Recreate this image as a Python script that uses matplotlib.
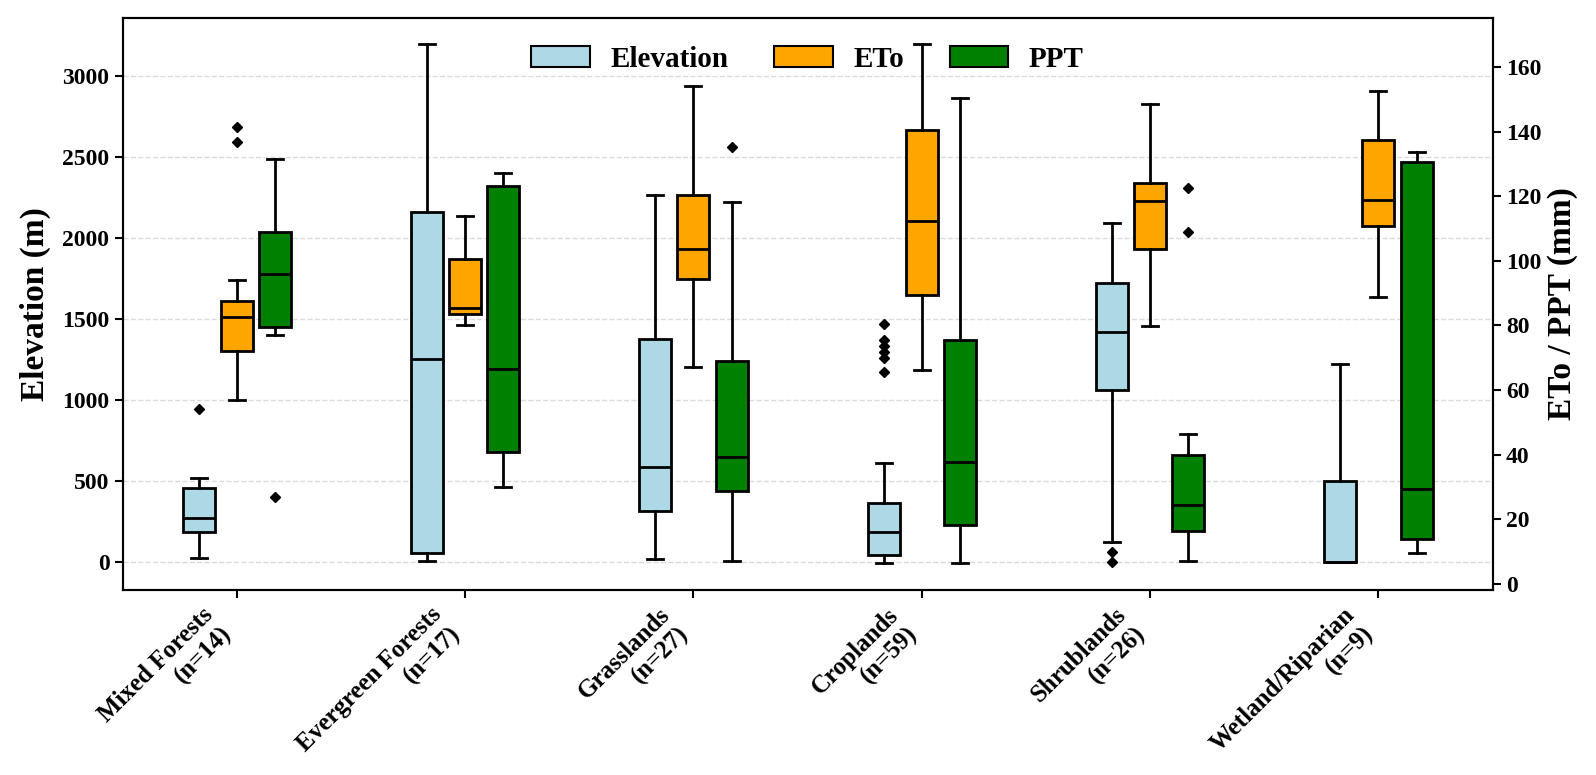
import matplotlib
matplotlib.use('Agg')
import matplotlib.pyplot as plt
from matplotlib.patches import Patch

plt.rcParams['font.family'] = ['Liberation Serif', 'DejaVu Serif']
plt.rcParams['font.weight'] = 'bold'

categories = ['Mixed Forests\n(n=14)', 'Evergreen Forests\n(n=17)', 'Grasslands\n(n=27)',
              'Croplands\n(n=59)', 'Shrublands\n(n=26)', 'Wetland/Riparian\n(n=9)']

# five-number summaries per category: (whisker low, Q1, median, Q3, whisker high)
elev_stats = [(24, 182, 269, 453, 519),
              (7, 52, 1253, 2157, 3196),
              (14, 312, 583, 1374, 2263),
              (-9, 40, 184, 361, 607),
              (123, 1062, 1419, 1718, 2093),
              (-5, -2, 0, 500, 1218)]
elev_fliers = [[944], [], [], [1466, 1367, 1331, 1296, 1260, 1171], [59, -2], []]

eto_stats = [(56.8, 72.1, 82.7, 87.7, 94.0),
             (80.2, 83.4, 85.3, 100.6, 113.8),
             (67.1, 94.3, 103.8, 120.4, 154.2),
             (66.3, 89.5, 112.4, 140.6, 167.1),
             (79.9, 103.8, 118.6, 124.2, 148.6),
             (88.8, 110.9, 119.0, 137.4, 152.7)]
eto_fliers = [[136.9, 141.5], [], [], [], [], []]

ppt_stats = [(76.9, 79.4, 96.0, 109.0, 131.7),
             (29.9, 40.9, 66.6, 123.3, 127.2),
             (7.1, 28.6, 39.2, 68.9, 118.4),
             (6.3, 18.3, 37.7, 75.4, 150.5),
             (7.1, 16.2, 24.4, 39.8, 46.3),
             (9.6, 13.7, 29.4, 130.7, 133.7)]
ppt_fliers = [[26.9], [], [135.3], [], [122.5, 108.9], []]

series_names = ['Elevation', 'ETo', 'PPT']
series_colors = ['lightblue', 'orange', 'green']


def to_bxp(stats, fliers):
    out = []
    for (lo, q1, med, q3, hi), fl in zip(stats, fliers):
        out.append(dict(whislo=lo, q1=q1, med=med, q3=q3, whishi=hi, fliers=fl))
    return out


fig = plt.figure(figsize=(15.96, 7.75), dpi=100)
ax = fig.add_axes([0.0768, 0.2387, 0.8584, 0.7381])
ax2 = ax.twinx()

offset = 0.167
width = 0.14
n = len(categories)


def draw(axis, stats, fliers, shift, color):
    pos = [i + shift for i in range(n)]
    axis.bxp(to_bxp(stats, fliers), positions=pos, widths=width, patch_artist=True,
             manage_ticks=False,
             boxprops=dict(facecolor=color, edgecolor='black', linewidth=2),
             medianprops=dict(color='black', linewidth=2),
             whiskerprops=dict(color='black', linewidth=2),
             capprops=dict(color='black', linewidth=2),
             flierprops=dict(marker='D', markerfacecolor='black', markeredgecolor='black',
                             markersize=5, linestyle='none'))


draw(ax, elev_stats, elev_fliers, -offset, series_colors[0])
draw(ax2, eto_stats, eto_fliers, 0.0, series_colors[1])
draw(ax2, ppt_stats, ppt_fliers, offset, series_colors[2])

ax.set_xlim(-0.5, 5.5)
ax.set_ylim(-175, 3356)
ax2.set_ylim(-2.0, 175.3)

ax.set_yticks([0, 500, 1000, 1500, 2000, 2500, 3000])
ax2.set_yticks([0, 20, 40, 60, 80, 100, 120, 140, 160])
ax.set_xticks(range(n))
ax.set_xticklabels(categories, rotation=45, ha='right', fontsize=18, fontweight='bold')

ax.yaxis.grid(True, linestyle='--', color='lightgray', alpha=0.8, linewidth=1)
ax.set_axisbelow(True)

ax.set_ylabel('Elevation (m)', fontsize=24, fontweight='bold', labelpad=8)
ax2.set_ylabel('ETo / PPT (mm)', fontsize=24, fontweight='bold')

for a in (ax, ax2):
    a.tick_params(axis='both', labelsize=17, width=1.5, length=6)
    for s in a.spines.values():
        s.set_linewidth(1.5)
ax.tick_params(axis='x', labelsize=18)

handles = [Patch(facecolor=c, edgecolor='black', linewidth=1.5, label=l)
           for c, l in zip(series_colors, series_names)]
ax2.legend(handles=handles, loc='upper center', ncol=3, frameon=False,
           prop=dict(size=21, weight='bold'), handlelength=2.0, handleheight=0.72,
           handletextpad=0.7, columnspacing=1.58, bbox_to_anchor=(0.5, 1.0),
           borderaxespad=0.55)

fig.savefig('out.png', dpi=100)
